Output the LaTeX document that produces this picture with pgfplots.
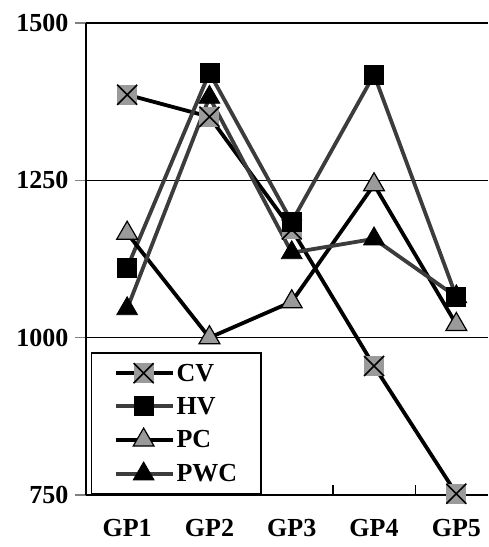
\documentclass[border=0pt]{standalone}
\usepackage{pgfplots}
\pgfplotsset{compat=1.18}
\usepackage{fontspec}
\setmainfont{Liberation Serif}
\definecolor{dg}{HTML}{3C3C3C}
\definecolor{mg}{HTML}{9A9A9A}
\newcommand{\bigf}{\fontsize{26bp}{30bp}\selectfont\bfseries}
\pgfdeclareplotmark{sqx}{%
  \pgfpathrectangle{\pgfqpoint{-\pgfplotmarksize}{-\pgfplotmarksize}}{\pgfqpoint{2\pgfplotmarksize}{2\pgfplotmarksize}}%
  \pgfusepathqfill
  \pgfpathmoveto{\pgfqpoint{-\pgfplotmarksize}{-\pgfplotmarksize}}%
  \pgfpathlineto{\pgfqpoint{\pgfplotmarksize}{\pgfplotmarksize}}%
  \pgfpathmoveto{\pgfqpoint{-\pgfplotmarksize}{\pgfplotmarksize}}%
  \pgfpathlineto{\pgfqpoint{\pgfplotmarksize}{-\pgfplotmarksize}}%
  \pgfusepathqstroke}
\begin{document}
\begin{tikzpicture}
\begin{axis}[
  scale only axis, width=402bp, height=472bp,
  xmin=0.5, xmax=5.385, ymin=750, ymax=1500,
  axis x line*=bottom, axis y line*=left,
  axis line style={line width=1.5bp, -},
  tick align=outside,
  major tick length=11bp,
  ytick={750,1000,1250,1500},
  yticklabels={{\bigf 750},{\bigf 1000},{\bigf 1250},{\bigf 1500}},
  ymajorgrids, grid style={black, line width=1.3bp},
  xtick={1,2,3,4,5}, xticklabels={{\bigf GP1},{\bigf GP2},{\bigf GP3},{\bigf GP4},{\bigf GP5}},
  major x tick style={draw=none},
  minor xtick={1.5,2.5,3.5,4.5},
  minor tick length=10bp,
  minor x tick style={draw=black, line width=1.3bp, yshift=10bp},
  major y tick style={line width=1.3bp},
  ticklabel style={font=\bigf},
  yticklabel style={xshift=-3bp},
  xticklabel style={yshift=-10bp},
  legend style={at={(rel axis cs:0.0124,0)}, anchor=south west, draw=black,
    line width=1.5bp, fill=white, font=\bigf,
    inner xsep=22bp, inner ysep=9bp, row sep=10.5bp},
  legend cell align=left,
  legend image code/.code={\draw[mark repeat=2,mark phase=2,#1] plot coordinates {(0bp,0bp) (28bp,0bp) (57bp,0bp)};},
  every axis plot/.append style={line width=3.8bp},
]
\coordinate (SW) at (rel axis cs:0,0);
\coordinate (NE) at (rel axis cs:1,1);
\addplot[black, mark=sqx, mark size=10bp, mark options={fill=mg, draw=black, line width=1.6bp}]
  coordinates {(1,1386) (2,1351) (3,1172) (4,955) (5,752)};
\addlegendentry{CV}
\addplot[dg, mark=square*, mark size=9.5bp, mark options={fill=black, draw=black, line width=0.8bp}]
  coordinates {(1,1111) (2,1421) (3,1184) (4,1418) (5,1065)};
\addlegendentry{HV}
\addplot[black, mark=triangle*, mark size=12bp, mark options={fill=mg, draw=black, line width=1.2bp}]
  coordinates {(1,1166) (2,1000) (3,1057) (4,1243) (5,1021)};
\addlegendentry{PC}
\addplot[dg, mark=triangle*, mark size=12bp, mark options={fill=black, draw=black, line width=0.8bp}]
  coordinates {(1,1046) (2,1382) (3,1135) (4,1157) (5,1065)};
\addlegendentry{PWC}
\end{axis}
\pgfresetboundingbox
\path ([shift={(-86bp,-52bp)}]SW) rectangle ([shift={(0bp,23bp)}]NE);
\end{tikzpicture}
\end{document}
